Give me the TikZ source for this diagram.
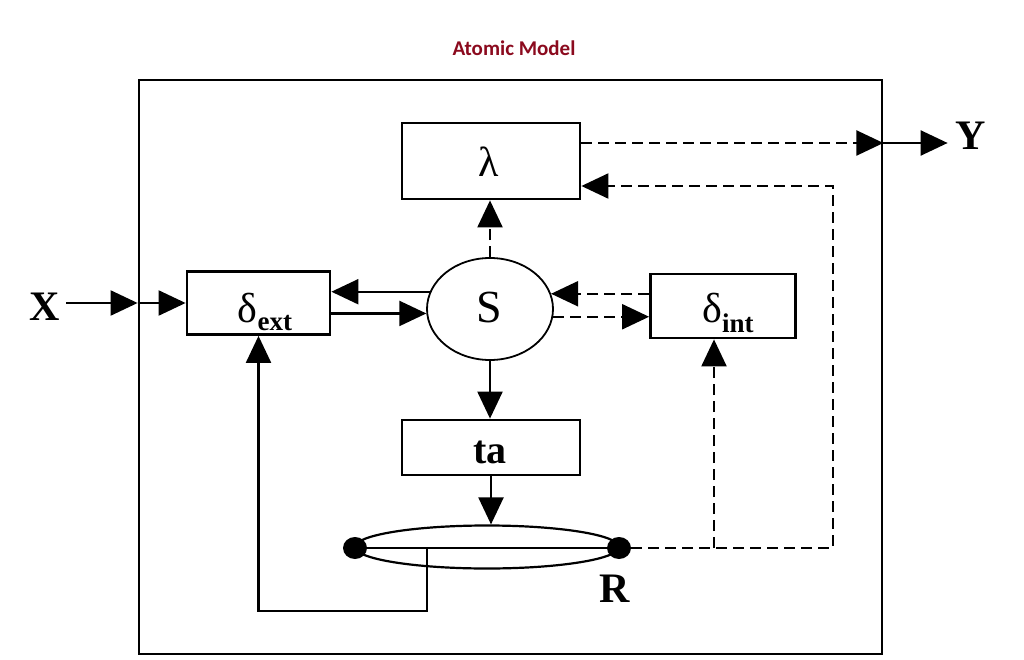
\documentclass[tikz,border=0pt]{standalone}
\usepackage{fontspec}
\setmainfont{Liberation Serif}
\newfontfamily\calib{Carlito}
\usetikzlibrary{arrows.meta,shapes.geometric}
\definecolor{titlered}{RGB}{139,10,30}
\begin{document}
\begin{tikzpicture}[x=1pt,y=-1pt,
  box/.style={draw,line width=2.8pt,rectangle,inner sep=0pt},
  lbl/.style={inner sep=0pt,anchor=base},
  arr/.style={line width=2.2pt,-{Triangle[length=27pt,width=25pt]}},
  dsh/.style={dash pattern=on 11pt off 6pt},
  ln/.style={line width=2.2pt}]
\useasboundingbox (0,0) rectangle (1024,660);
\node[lbl,text=titlered,font=\calib\bfseries\fontsize{21}{24}\selectfont] (title) at (514,56) {Atomic Model};
% frame
\node[box,line width=2.8pt,minimum width=743pt,minimum height=574pt] (frame) at (510.5,367) {};
% boxes
\node[box,minimum width=178pt,minimum height=76pt] (lam) at (491,161) {};
\node[box,minimum width=143pt,minimum height=63pt] (dext) at (258.5,303) {};
\node[box,minimum width=145pt,minimum height=64pt] (dint) at (723,306) {};
\node[box,minimum width=178pt,minimum height=55pt] (ta) at (491,447.5) {};
\node[draw,ellipse,line width=1.8pt,minimum width=126pt,minimum height=102pt,inner sep=0pt] (S) at (490,309) {};
\node[draw,ellipse,line width=2.2pt,minimum width=264pt,minimum height=43pt,inner sep=0pt] (lens) at (487,547) {};
\node[fill,ellipse,minimum width=24pt,minimum height=22pt,inner sep=0pt] (dL) at (355,548) {};
\node[fill,ellipse,minimum width=24pt,minimum height=22pt,inner sep=0pt] (dR) at (619,548) {};
% labels
\node[lbl,font=\fontsize{42}{42}\selectfont] (laml) at (489,177) {λ};
\node[lbl,font=\fontsize{42}{42}\selectfont] (dextl) at (265,322) {δ\raisebox{-8pt}{\fontsize{27}{27}\selectfont\bfseries ext}};
\node[lbl,font=\fontsize{42}{42}\selectfont] (dintl) at (728,322) {δ\raisebox{-10pt}{\fontsize{27}{27}\selectfont\bfseries int}};
\node[lbl,font=\fontsize{46}{46}\selectfont] (Sl) at (489,322) {S};
\node[lbl,font=\fontsize{40}{40}\selectfont\bfseries] (tal) at (490,463) {ta};
\node[lbl,font=\fontsize{42}{42}\selectfont\bfseries] (Rl) at (615,602) {R};
\node[lbl,font=\fontsize{42}{42}\selectfont\bfseries] (X) at (45,320) {X};
\node[lbl,font=\fontsize{42}{42}\selectfont\bfseries] (Y) at (971,150) {Y};
\coordinate (tap) at (427,548);
\coordinate (rc) at (833,548);
% connectors
\draw[arr,shorten <=6pt] (dext.west -| X.east) -- (dext.west -| frame.west);
\draw[arr] (dext.west -| frame.west) -- (dext.west);
\draw[arr] (S.164) -- (S.164 -| dext.east);
\draw[arr] (S.184 -| dext.east) -- (S.184);
\draw[arr,dsh] (S.north) -- (S.north |- lam.south);
\draw[arr,dsh] ([yshift=18pt]lam.east) -- ([yshift=18pt]lam.east -| frame.east);
\draw[arr,shorten >=8pt] ([yshift=18pt]lam.east -| frame.east) -- ([yshift=18pt]lam.east -| Y.west);
\draw[arr,dsh] (dR.east) -- (rc) |- ([yshift=-25pt]lam.east);
\draw[arr,dsh] (dR.east -| 714,0) -- (714,0 |- dint.south);
\draw[arr,dsh] (S.14 -| dint.west) -- (S.14);
\draw[arr,dsh] (S.353.5) -- (S.353.5 -| dint.west);
\draw[arr] (S.south) -- (S.south |- ta.north);
\draw[arr] (ta.south) -- (ta.south |- lens.north);
\draw[ln] (dL.center) -- (dR.center);
\draw[arr] (tap) -- ++(0,63) -| (dext.south);
\end{tikzpicture}
\end{document}
